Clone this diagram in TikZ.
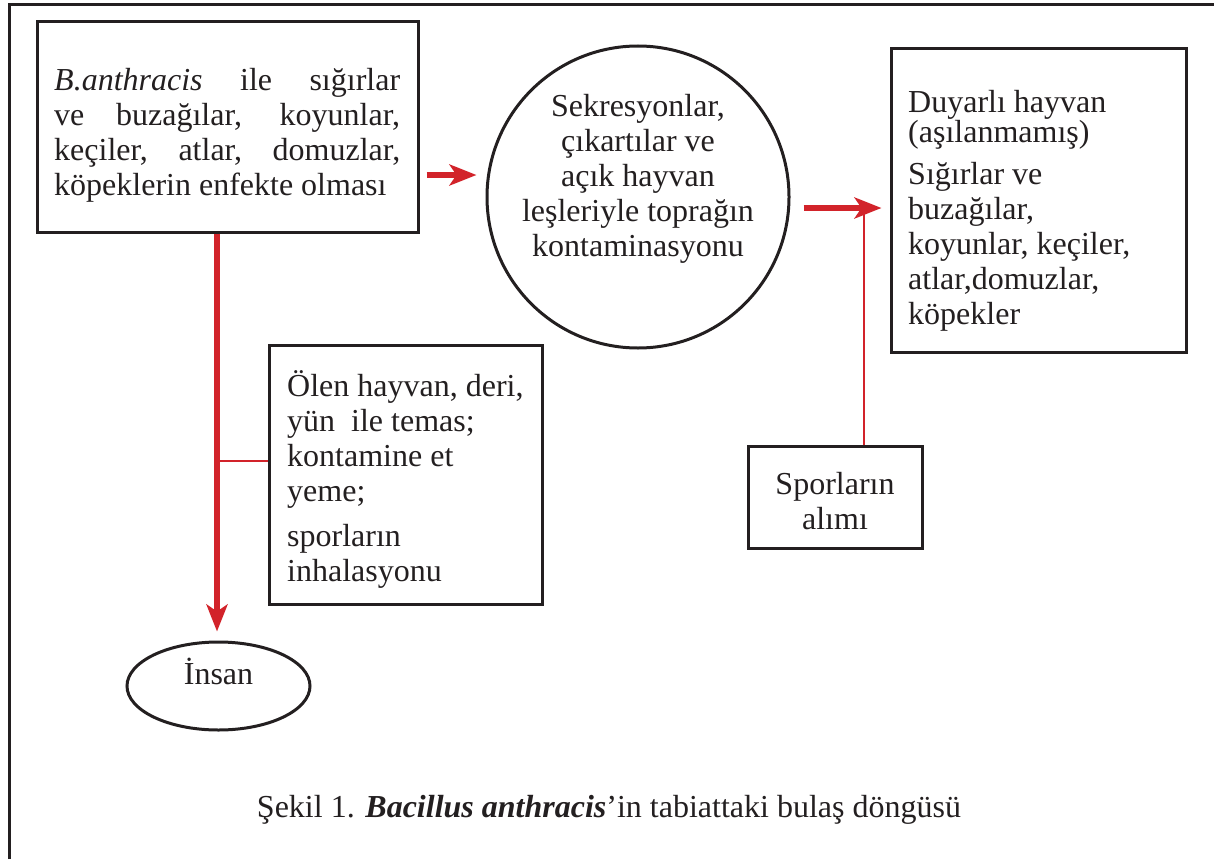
\documentclass[tikz,border=0pt]{standalone}
\usepackage{fontspec}
\setmainfont{Liberation Serif}
\usetikzlibrary{arrows.meta,shapes.geometric}
\definecolor{ink}{RGB}{35,31,32}
\definecolor{flow}{RGB}{210,35,42}
\newcommand\bodysize{\fontsize{32}{35}\selectfont}
% fixed height for the first line of every text block
\newcommand\firstline{\rule{0pt}{30pt}}
\begin{document}
\begin{tikzpicture}[x=1pt,y=-1pt,
  frame/.style={draw=ink,line width=3pt},
  box/.style={draw=ink,line width=3pt,rectangle,inner sep=0pt},
  txt/.style={inner sep=0pt,font=\bodysize,text=ink},
  mainflow/.style={draw=flow,line width=5.5pt,-{Stealth[length=27pt,width=21pt,inset=7pt]}},
  sideflow/.style={draw=flow,line width=2.5pt}]
\useasboundingbox (0,0) rectangle (1214,859);

% outer frame (left and top edges)
\draw[frame] (9.5,859) -- (9.5,5) -- (1214,5);

% shapes
\node[box,minimum width=381pt,minimum height=210pt] (src) at (227.5,127) {};
\node[box,circle,minimum size=302pt] (soil) at (638,197) {};
\node[box,minimum width=295pt,minimum height=303pt] (host) at (1038.5,200.5) {};
\node[box,minimum width=273pt,minimum height=259pt] (route) at (405.5,474.5) {};
\node[box,minimum width=174pt,minimum height=102pt] (spore) at (835,497) {};
\node[box,ellipse,minimum width=183pt,minimum height=88pt] (human) at (218.5,686) {};

% texts
\node[txt,anchor=north west,text width=346pt,align=justify] (srctext) at (54,60)
  {\firstline\textit{B.anthracis} ile sığırlar\linebreak
   ve buzağılar, koyunlar,\linebreak
   keçiler, atlar, domuzlar,\linebreak
   köpeklerin enfekte olması};
\node[txt,anchor=north,align=center] (soiltext) at (638,86)
  {\firstline Sekresyonlar,\\çıkartılar ve\\açık hayvan\\leşleriyle toprağın\\kontaminasyonu};
\node[txt,anchor=north west,align=left] (hosttext) at (908,82)
  {\firstline Duyarlı hayvan\\[-5pt](aşılanmamış)\\[7pt]Sığırlar ve\\buzağılar,\\koyunlar, keçiler,\\atlar,domuzlar,\\köpekler};
\node[txt,anchor=north west,align=left] (routetext) at (287,366)
  {\firstline Ölen hayvan, deri,\\yün~ ile temas;\\kontamine et\\yeme;\\[10pt]sporların\\inhalasyonu};
\node[txt,anchor=north,align=center] (sporetext) at (835,464)
  {\firstline Sporların\\alımı};
\node[txt,anchor=north] (humantext) at (218.5,654) {\firstline İnsan};
\node[txt,anchor=base] (caption) at (609,817)
  {Şekil 1. \textbf{\textit{Bacillus anthracis}}’in tabiattaki bulaş döngüsü};

% connectors
\draw[mainflow] ([shift={(7,48)}]src.east) -- ([shift={(-9,-22)}]soil.west);
\draw[mainflow] ([shift={(13,11)}]soil.east) -- ([shift={(-8,7.5)}]host.west);
\draw[sideflow] ([xshift=29pt]spore.north) -- ++(0,-238);
\draw[mainflow] ([xshift=-10.5pt]src.south) -- ++(0,398);
\draw[sideflow] ([yshift=13.5pt]route.west) -- ++(-52,0);
\end{tikzpicture}
\end{document}
